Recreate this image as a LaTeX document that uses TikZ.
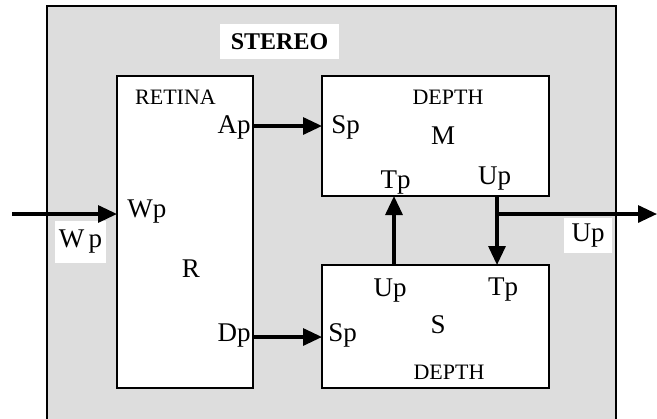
\documentclass[tikz,border=0pt]{standalone}
\usepackage{fontspec}
\setmainfont{Liberation Serif}
\usetikzlibrary{arrows.meta}
\definecolor{bggray}{HTML}{DDDDDD}
\begin{document}
\begin{tikzpicture}[x=0.5pt,y=-0.5pt,
  blk/.style={draw,line width=1.3pt,fill=white,inner sep=0pt},
  arr/.style={line width=1.6pt,-{Triangle[length=9.5pt,width=8.5pt]}},
  port/.style={inner sep=0pt,font=\fontsize{13.5}{15}\selectfont},
  small/.style={inner sep=0pt,font=\fontsize{11}{13}\selectfont},
  tag/.style={fill=white,inner sep=0pt,font=\fontsize{13.5}{15}\selectfont}]
\path[use as bounding box,clip] (0,0) rectangle (657,418);
% outer gray frame
\draw[line width=1.3pt,fill=bggray] (47,6) rectangle (616,440);
\node[tag,minimum width=59.5pt,minimum height=17.5pt,font=\fontsize{12}{14}\selectfont\bfseries] (stereo) at (279.5,41.5) {STEREO};
% blocks
\node[blk,minimum width=68pt,minimum height=156pt] (R) at (185,232) {};
\node[blk,minimum width=113.5pt,minimum height=60pt] (M) at (435.5,136) {};
\node[blk,minimum width=113.5pt,minimum height=61.5pt] (S) at (435.5,326.5) {};
% texts in R
\node[small,anchor=base] (rtitle) at (175.5,104) {RETINA};
\node[port,anchor=base east] (rAp) at (251,133) {Ap};
\node[port,anchor=base west] (rWp) at (127,217) {Wp};
\node[port,anchor=base] (rR) at (191,277) {R};
\node[port,anchor=base east] (rDp) at (251,341) {Dp};
% texts in M
\node[small,anchor=base] (mtitle) at (448,104) {DEPTH};
\node[port,anchor=base] (mM) at (443,144) {M};
\node[port,anchor=base west] (mSp) at (331,133) {Sp};
\node[port,anchor=base] (mTp) at (395.5,188) {Tp};
\node[port,anchor=base] (mUp) at (494.5,184) {Up};
% texts in S
\node[port,anchor=base] (sUp) at (390,296) {Up};
\node[port,anchor=base] (sTp) at (503,295) {Tp};
\node[port,anchor=base] (sS) at (438,333) {S};
\node[port,anchor=base west] (sSp) at (328,341) {Sp};
\node[small,anchor=base] (stitle) at (449,379) {DEPTH};
% outer labels
\node[tag,minimum width=25.5pt,minimum height=21pt] (wpl) at (80.5,242) {W\,p};
\node[tag,minimum width=24pt,minimum height=17.5pt] (upl) at (588,235.5) {Up};
% port coordinates
\coordinate (Win) at (12,214);
\coordinate (RW) at (117,214);
\coordinate (RA) at (253,126);
\coordinate (MS) at (322,126);
\coordinate (RD) at (253,337);
\coordinate (SS) at (322,337);
\coordinate (SU) at (394,265);
\coordinate (MT) at (394,196);
\coordinate (MU) at (497,196);
\coordinate (ST) at (497,265);
\coordinate (J) at (497,214);
\coordinate (Out) at (657,214);
% connectors
\draw[arr] (Win) -- (RW);
\draw[arr] (RA) -- (MS);
\draw[arr] (RD) -- (SS);
\draw[arr] (SU) -- (MT);
\draw[arr] (MU) -- (ST);
\draw[arr] (J) -- (Out);
\end{tikzpicture}
\end{document}
